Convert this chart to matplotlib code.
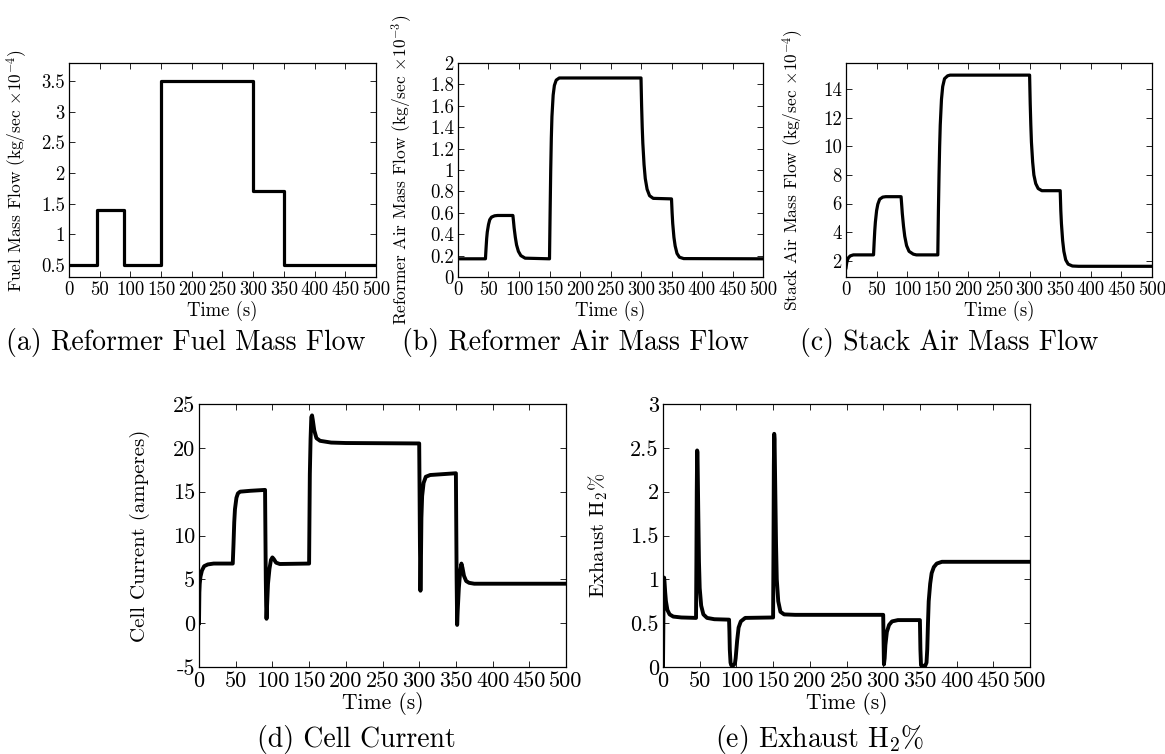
import matplotlib
matplotlib.use("Agg")
import matplotlib.pyplot as plt
from matplotlib.ticker import FuncFormatter, MultipleLocator

plt.rcParams["font.family"] = "cmr10"
plt.rcParams["mathtext.fontset"] = "cm"
plt.rcParams["axes.unicode_minus"] = False

# (a) reformer fuel mass flow, kg/sec x1e-4 (steps)
fuel_t = [0, 45, 45, 90, 90, 150, 150, 300, 300, 350, 350, 500]
fuel_v = [0.5, 0.5, 1.4, 1.4, 0.5, 0.5, 3.5, 3.5, 1.7, 1.7, 0.5, 0.5]

# (b) reformer air mass flow, kg/sec x1e-3
rair_t = [0, 45, 46, 47, 48, 50, 52, 55, 60, 65, 90, 91, 92, 94, 96, 99, 103, 110, 150,
          151, 152, 153, 154, 156, 158, 161, 166, 300, 301, 302, 303, 305, 307, 310, 314,
          320, 350, 351, 352, 354, 356, 359, 363, 370, 500]
rair_v = [0.17, 0.17, 0.27, 0.36, 0.42, 0.49, 0.535, 0.56, 0.572, 0.575, 0.575, 0.52, 0.46,
          0.37, 0.30, 0.24, 0.20, 0.176, 0.17, 0.6, 1.0, 1.3, 1.5, 1.7, 1.79, 1.84, 1.86,
          1.86, 1.6, 1.4, 1.25, 1.05, 0.92, 0.82, 0.76, 0.735, 0.73, 0.6, 0.5, 0.37, 0.29,
          0.22, 0.185, 0.172, 0.17]

# (c) stack air mass flow, kg/sec x1e-4
sair_t = [0, 1, 2, 4, 7, 12, 45, 46, 47, 48, 50, 52, 55, 60, 65, 90, 91, 92, 94, 96, 99,
          103, 110, 115, 150, 151, 152, 153, 154, 156, 158, 161, 166, 170, 300, 301, 302,
          303, 305, 307, 310, 314, 320, 350, 351, 352, 354, 356, 359, 363, 370, 380, 500]
sair_v = [1.5, 1.8, 2.0, 2.2, 2.33, 2.4, 2.4, 3.3, 4.1, 4.7, 5.5, 5.95, 6.3, 6.45, 6.48,
          6.48, 5.9, 5.3, 4.4, 3.7, 3.05, 2.65, 2.45, 2.4, 2.4, 5.5, 8.0, 10.0, 11.5, 13.3,
          14.2, 14.75, 14.95, 15.0, 15.0, 13.0, 11.5, 10.3, 8.9, 8.0, 7.4, 7.05, 6.9, 6.9,
          5.5, 4.6, 3.4, 2.65, 2.05, 1.75, 1.62, 1.6, 1.6]

# (d) cell current, amperes
cur_t = [0, 0.5, 1, 2, 4, 7, 12, 20, 46, 47, 48, 49, 51, 53, 56, 70, 90, 90.5, 91, 91.5,
         92, 93, 94, 96, 98, 100, 102, 105, 110, 150, 150.5, 151, 152, 153, 154, 155, 157,
         160, 165, 180, 200, 300, 300.5, 301, 301.7, 302.5, 303, 304, 306, 309, 315, 350,
         350.5, 351, 351.7, 352.5, 354, 356, 357.5, 359, 361, 364, 368, 375, 500]
cur_v = [0, 3.5, 4.5, 5.3, 6.0, 6.5, 6.7, 6.8, 6.8, 9.0, 11.5, 13.0, 14.3, 14.8, 15.0,
         15.1, 15.2, 10.0, 5.0, 2.0, 0.5, 2.5, 4.5, 6.2, 7.2, 7.5, 7.3, 6.9, 6.75, 6.8,
         12.0, 17.0, 21.0, 23.5, 23.7, 23.2, 22.0, 21.1, 20.8, 20.6, 20.55, 20.5, 15.0,
         9.0, 3.7, 8.0, 12.0, 14.5, 16.0, 16.7, 16.9, 17.1, 11.0, 5.0, -0.2, 1.5, 4.0, 6.0,
         6.8, 6.3, 5.4, 4.8, 4.6, 4.5, 4.5]

# (e) exhaust H2 %
h2_t = [0, 0.5, 1, 1.5, 2, 3, 4, 6, 9, 14, 25, 45, 45.5, 46, 46.5, 47, 48, 49, 50, 52,
        55, 60, 70, 90, 90.5, 91, 92, 93, 96, 98, 99, 101, 103, 106, 112, 150, 150.5, 151,
        151.5, 152, 153, 154, 155, 157, 160, 165, 180, 300, 300.5, 301, 302, 303, 305,
        308, 312, 320, 350, 350.7, 351.5, 357, 359, 360, 361, 362, 364, 366, 369, 373,
        380, 500]
h2_v = [0, 0.5, 1.0, 1.02, 0.98, 0.85, 0.75, 0.65, 0.6, 0.575, 0.565, 0.56, 1.2, 2.0,
        2.47, 2.45, 1.8, 1.2, 0.9, 0.7, 0.6, 0.56, 0.545, 0.54, 0.4, 0.2, 0.05, 0.02, 0.02,
        0.04, 0.1, 0.3, 0.45, 0.52, 0.56, 0.565, 1.3, 2.3, 2.66, 2.6, 2.0, 1.4, 1.0, 0.75,
        0.63, 0.6, 0.595, 0.595, 0.3, 0.03, 0.1, 0.25, 0.4, 0.48, 0.52, 0.535, 0.535, 0.2,
        0.02, 0.01, 0.05, 0.2, 0.5, 0.75, 0.95, 1.07, 1.14, 1.18, 1.2, 1.2]

W, H = 1165, 754
fig = plt.figure(figsize=(W / 100, H / 100), dpi=100)


def box(l, r, t, b):
    return [l / W, 1 - b / H, (r - l) / W, (b - t) / H]


fmt = FuncFormatter(lambda v, p: "%g" % round(v, 6))


def panel(px, t, v, ylim, ystep, ylabel, fs, tfs, yfs, lw, ylab_right):
    l, r, top, b = px
    ax = fig.add_axes(box(l, r, top, b))
    ax.plot(t, v, color="black", lw=lw, solid_joinstyle="round")
    ax.set_xlim(0, 500)
    ax.set_ylim(*ylim)
    ax.xaxis.set_major_locator(MultipleLocator(50))
    ax.yaxis.set_major_locator(MultipleLocator(ystep))
    ax.xaxis.set_major_formatter(fmt)
    ax.yaxis.set_major_formatter(fmt)
    ax.tick_params(direction="in", top=True, right=True, length=4, width=0.6,
                   labelsize=tfs, pad=3)
    for s in ax.spines.values():
        s.set_linewidth(0.9)
    ax.set_xlabel("Time (s)", fontsize=fs, labelpad=1)
    ax.set_ylabel(ylabel, fontsize=yfs)
    # ylabel anchor is the right edge of the rotated text
    ax.yaxis.set_label_coords((ylab_right - l) / (r - l), 0.5)
    return ax


panel((69, 376, 63, 277), fuel_t, fuel_v, (0.3, 3.8), 0.5,
      r"Fuel Mass Flow (kg/sec $\times 10^{-4}$)", 13.5, 13.5, 12.5, 2.3, 29)
panel((458, 763, 63, 277), rair_t, rair_v, (0, 2), 0.2,
      r"Reformer Air Mass Flow (kg/sec $\times 10^{-3}$)", 13.5, 13.5, 12.5, 2.3, 414)
ax = panel((846, 1152, 63, 277), sair_t, sair_v, (0.85, 15.85), 2,
           r"Stack Air Mass Flow (kg/sec $\times 10^{-4}$)", 13.5, 13.5, 12.5, 2.3, 805)
ax.set_yticks(range(2, 15, 2))

panel((199, 566, 404, 667), cur_t, cur_v, (-5, 25), 5,
      "Cell Current (amperes)", 15.5, 16, 15, 2.8, 150)
panel((663, 1030, 404, 667), h2_t, h2_v, (0, 3), 0.5,
      r"Exhaust H$_2$%", 15.5, 16, 15, 2.8, 610)

caps = [("(a) Reformer Fuel Mass Flow", 186, 343),
        ("(b) Reformer Air Mass Flow", 575, 343),
        ("(c) Stack Air Mass Flow", 949, 343),
        ("(d) Cell Current", 356, 739),
        (r"(e) Exhaust H$_2$%", 820, 739)]
for txt, x, y in caps:
    fig.text(x / W, 1 - y / H, txt, ha="center", va="center", fontsize=20)

fig.savefig("out.png", dpi=100)
